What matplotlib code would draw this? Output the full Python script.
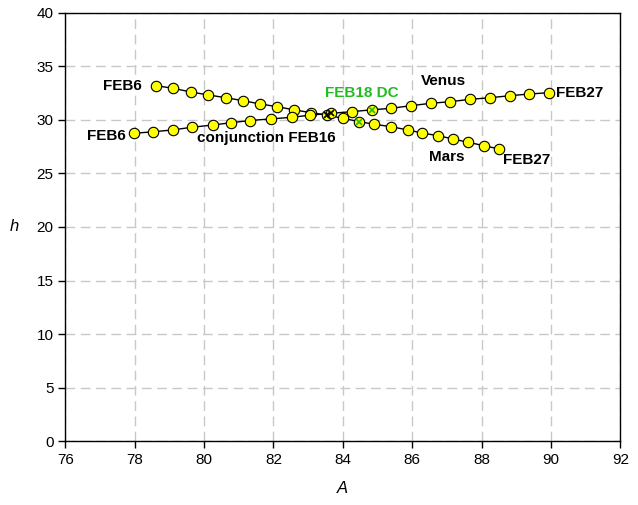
import matplotlib.pyplot as plt

plt.rcParams['font.family'] = ['Liberation Sans', 'DejaVu Sans']

# Mars, Feb 6 .. Feb 27 (one point per day)
mars_A = [78.61, 79.11, 79.61, 80.12, 80.63, 81.13, 81.61, 82.11, 82.59, 83.07, 83.55,
          84.01, 84.47, 84.90, 85.38, 85.87, 86.29, 86.75, 87.18, 87.62, 88.07, 88.50]
mars_h = [33.21, 32.96, 32.62, 32.34, 32.08, 31.80, 31.50, 31.24, 30.95, 30.69, 30.45,
          30.15, 29.85, 29.60, 29.38, 29.07, 28.78, 28.53, 28.22, 27.91, 27.60, 27.29]

# Venus, Feb 6 .. Feb 27
venus_A = [77.99, 78.54, 79.09, 79.65, 80.25, 80.79, 81.32, 81.92, 82.53, 83.05, 83.65,
           84.27, 84.83, 85.39, 85.97, 86.54, 87.09, 87.67, 88.24, 88.82, 89.38, 89.94]
venus_h = [28.76, 28.90, 29.07, 29.32, 29.53, 29.75, 29.95, 30.10, 30.25, 30.45, 30.62,
           30.78, 30.95, 31.09, 31.34, 31.56, 31.71, 31.93, 32.08, 32.27, 32.43, 32.55]

conj_idx = 10   # FEB16
dc_idx = 12     # FEB18

fig = plt.figure(figsize=(6.38, 5.05), dpi=100)
ax = fig.add_axes([0.1024, 0.1267, 0.8699, 0.8476])

for A, h in [(mars_A, mars_h), (venus_A, venus_h)]:
    ax.plot(A, h, color='black', linewidth=1, zorder=3)
    ax.plot(A, h, linestyle='none', marker='o', markersize=7.5, markerfacecolor='#ffff00',
            markeredgecolor='black', markeredgewidth=0.8, zorder=4)
    ax.plot(A[conj_idx], h[conj_idx], linestyle='none', marker='x', markersize=4.5,
            color='black', markeredgewidth=1.2, zorder=5)
    ax.plot(A[dc_idx], h[dc_idx], linestyle='none', marker='x', markersize=4.5,
            color='#22bb22', markeredgewidth=1.2, zorder=5)

bold = dict(fontsize=11, fontweight='bold')
ax.text(78.2, 33.2, 'FEB6', ha='right', va='center', **bold)
ax.text(77.75, 28.55, 'FEB6', ha='right', va='center', **bold)
ax.text(81.8, 28.3, 'conjunction FEB16', ha='center', va='center', **bold)
ax.text(84.55, 32.5, 'FEB18 DC', ha='center', va='center', color='#22bb22', **bold)
ax.text(86.9, 33.6, 'Venus', ha='center', va='center', **bold)
ax.text(90.15, 32.55, 'FEB27', ha='left', va='center', **bold)
ax.text(87.0, 26.5, 'Mars', ha='center', va='center', **bold)
ax.text(89.3, 26.3, 'FEB27', ha='center', va='center', **bold)

ax.set_xlim(76, 92)
ax.set_ylim(0, 40)
ax.set_xticks(range(76, 93, 2))
ax.set_yticks(range(0, 41, 5))
ax.tick_params(direction='out', length=5, width=1, labelsize=11, colors='black')
ax.grid(True, color='#c8c8c8', linestyle=(0, (7, 4)), linewidth=1, zorder=0)
for s in ax.spines.values():
    s.set_linewidth(1)
    s.set_color('black')

ax.set_xlabel('A', fontsize=12, style='italic', labelpad=10)
ax.set_ylabel('h', fontsize=12, style='italic', rotation=0, labelpad=16, va='center')

fig.savefig('out.png', dpi=100)
